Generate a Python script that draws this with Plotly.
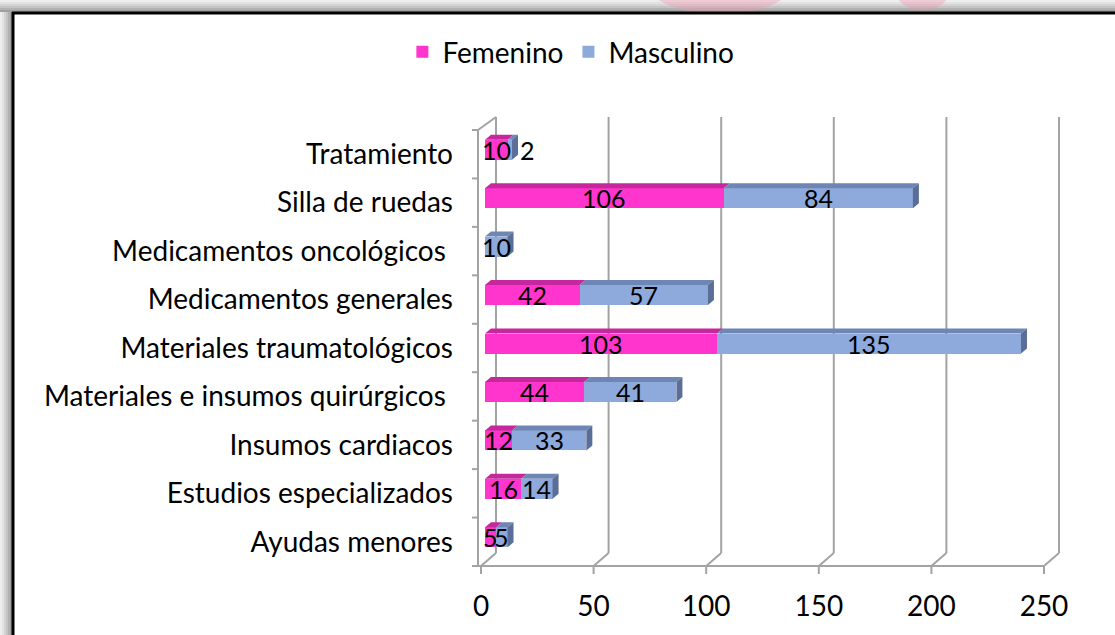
import plotly.graph_objects as go

# ---------------- data ----------------
categories = ["Ayudas menores", "Estudios especializados", "Insumos cardiacos",
              "Materiales e insumos quirúrgicos\u00a0", "Materiales traumatológicos",
              "Medicamentos generales", "Medicamentos oncológicos\u00a0",
              "Silla de ruedas", "Tratamiento"]
femenino = [5, 16, 12, 44, 103, 42, 0, 106, 10]
masculino = [5, 14, 33, 41, 135, 57, 10, 84, 2]
x_ticks = [0, 50, 100, 150, 200, 250]

# ---------------- styles / geometry ----------------
W, H = 1115, 635
FONT = "Lato"
PINK, PINK_TOP = "#FF35CD", "#C4289C"
BLUE, BLUE_TOP, BLUE_SIDE = "#8EA9DC", "#6E86B4", "#5B6E98"
GRID = "#A3A3A3"

X0PX, XS = 481.0, (1044.0 - 481.0) / 250.0     # px position of 0 and px per unit
YS = 436.0 / 9.0                                 # px per category
L, R, T, B = 466, 1068, 112, 578
xa, xb = (L - X0PX) / XS, (R - X0PX) / XS
ya, yb = -0.5 - (B - 566) / YS, 8.5 + (130 - T) / YS

DX, DY = 15 / XS, 13 / YS          # wall depth
BX, BYO, BW = 4 / XS, 4.5 / YS, 20 / YS   # bar offset and thickness
TDX, TDY = 6 / XS, 5 / YS          # bar 3D depth
LEFTX = -3 / XS

idx = list(range(len(categories)))
ybar = [i + BYO for i in idx]

fig = go.Figure()
fig.add_trace(go.Bar(name="Femenino", orientation="h", y=ybar, x=femenino,
                     base=[BX] * len(idx), width=BW,
                     marker=dict(color=PINK, line=dict(width=0))))
fig.add_trace(go.Bar(name="Masculino", orientation="h", y=ybar, x=masculino,
                     base=[BX + f for f in femenino], width=BW,
                     marker=dict(color=BLUE, line=dict(width=0))))

shapes = []
line = dict(color=GRID, width=2)
# back wall gridlines, floor diagonals and ticks
for v in x_ticks:
    shapes.append(dict(type="line", xref="x", yref="y", x0=v + DX, x1=v + DX,
                       y0=-0.5 + DY, y1=8.5 + DY, line=line, layer="below"))
    shapes.append(dict(type="line", xref="x", yref="y", x0=v, x1=v + DX,
                       y0=-0.5, y1=-0.5 + DY, line=line, layer="below"))
    shapes.append(dict(type="line", xref="x", yref="y", x0=v, x1=v,
                       y0=-0.5, y1=-0.5 - 8 / YS, line=line, layer="below"))
shapes.append(dict(type="line", xref="x", yref="y", x0=LEFTX, x1=x_ticks[-1],
                   y0=-0.5, y1=-0.5, line=line, layer="below"))
shapes.append(dict(type="line", xref="x", yref="y", x0=LEFTX, x1=LEFTX,
                   y0=-0.5, y1=8.5, line=line, layer="below"))
shapes.append(dict(type="line", xref="x", yref="y", x0=LEFTX, x1=DX,
                   y0=8.5, y1=8.5 + DY, line=line, layer="below"))
for k in range(len(categories) + 1):
    shapes.append(dict(type="line", xref="x", yref="y", x0=LEFTX - 6 / XS, x1=LEFTX,
                       y0=k - 0.5, y1=k - 0.5, line=line, layer="below"))

# 3D faces of bars
def poly(pts, color):
    p = "M " + " L ".join(f"{x},{y}" for x, y in pts) + " Z"
    return dict(type="path", xref="x", yref="y", path=p, fillcolor=color,
                line=dict(width=0), layer="above")

for i, f, m in zip(idx, femenino, masculino):
    yt = i + BYO + BW / 2
    yb_ = i + BYO - BW / 2
    x0 = BX
    if f > 0:
        shapes.append(poly([(x0, yt), (x0 + f, yt), (x0 + f + TDX, yt + TDY), (x0 + TDX, yt + TDY)], PINK_TOP))
    if m > 0:
        shapes.append(poly([(x0 + f, yt), (x0 + f + m, yt), (x0 + f + m + TDX, yt + TDY), (x0 + f + TDX, yt + TDY)], BLUE_TOP))
    xe = x0 + f + m
    side = BLUE_SIDE if m > 0 else PINK_TOP
    shapes.append(poly([(xe, yb_), (xe, yt), (xe + TDX, yt + TDY), (xe + TDX, yb_ + TDY)], side))

# frame (paper coords from pixels)
def px(xp):
    return (xp - L) / (R - L)

def py(yp):
    return (B - yp) / (B - T)

grays = ["#eeeeee", "#e2e2e2", "#d4d4d4", "#c4c4c4", "#b2b2b2", "#a0a0a0"]
for j, g in enumerate(grays):
    shapes.append(dict(type="rect", xref="paper", yref="paper", x0=px(0), x1=px(W),
                       y0=py(2 * j), y1=py(2 * j + 2), fillcolor=g, line=dict(width=0), layer="below"))
for j, g in enumerate(grays):
    shapes.append(dict(type="rect", xref="paper", yref="paper", x0=px(2 * j), x1=px(2 * j + 2),
                       y0=py(12), y1=py(H), fillcolor=g, line=dict(width=0), layer="below"))
shapes.append(dict(type="circle", xref="paper", yref="paper", x0=px(650), x1=px(790),
                   y0=py(-40), y1=py(14), fillcolor="rgba(240,150,175,0.4)", line=dict(width=0), layer="below"))
shapes.append(dict(type="circle", xref="paper", yref="paper", x0=px(895), x1=px(950),
                   y0=py(-30), y1=py(10), fillcolor="rgba(240,150,175,0.4)", line=dict(width=0), layer="below"))
shapes.append(dict(type="line", xref="paper", yref="paper", x0=px(12), x1=px(W),
                   y0=py(13), y1=py(13), line=dict(color="black", width=3)))
shapes.append(dict(type="line", xref="paper", yref="paper", x0=px(13), x1=px(13),
                   y0=py(12), y1=py(H), line=dict(color="black", width=3)))

# data labels
label_xshift = {("Masculino", 8): 18}
annotations = []
for i, f, m in zip(idx, femenino, masculino):
    for name, val, start in (("Femenino", f, BX), ("Masculino", m, BX + f)):
        if val <= 0:
            continue
        annotations.append(dict(x=start + val / 2, y=i + BYO, xref="x", yref="y",
                                text=str(val), showarrow=False,
                                xshift=label_xshift.get((name, i), 0),
                                font=dict(family=FONT, size=25, color="black")))

fig.update_layout(
    width=W, height=H, autosize=False,
    margin=dict(l=L, r=W - R, t=T, b=H - B),
    paper_bgcolor="white", plot_bgcolor="rgba(0,0,0,0)",
    barmode="overlay", bargap=0,
    font=dict(family=FONT, size=28, color="black"),
    showlegend=True,
    legend=dict(orientation="h", xref="container", yref="container",
                x=0.512, xanchor="center", y=1 - 52 / H, yanchor="middle",
                font=dict(family=FONT, size=28), itemsizing="constant",
                bgcolor="rgba(0,0,0,0)", traceorder="normal"),
    xaxis=dict(range=[xa, xb], tickvals=x_ticks, ticktext=[str(v) for v in x_ticks],
               showgrid=False, zeroline=False, showline=False, ticks="",
               ticklabelstandoff=9, tickfont=dict(family=FONT, size=28), fixedrange=True),
    yaxis=dict(range=[ya, yb], tickvals=idx, ticktext=categories,
               showgrid=False, zeroline=False, showline=False, ticks="",
               ticklabelstandoff=12, tickfont=dict(family=FONT, size=28), fixedrange=True),
    shapes=shapes, annotations=annotations,
)

fig.write_html("out.html", config={"displayModeBar": False},
               post_script="document.body.style.margin='0px';")
